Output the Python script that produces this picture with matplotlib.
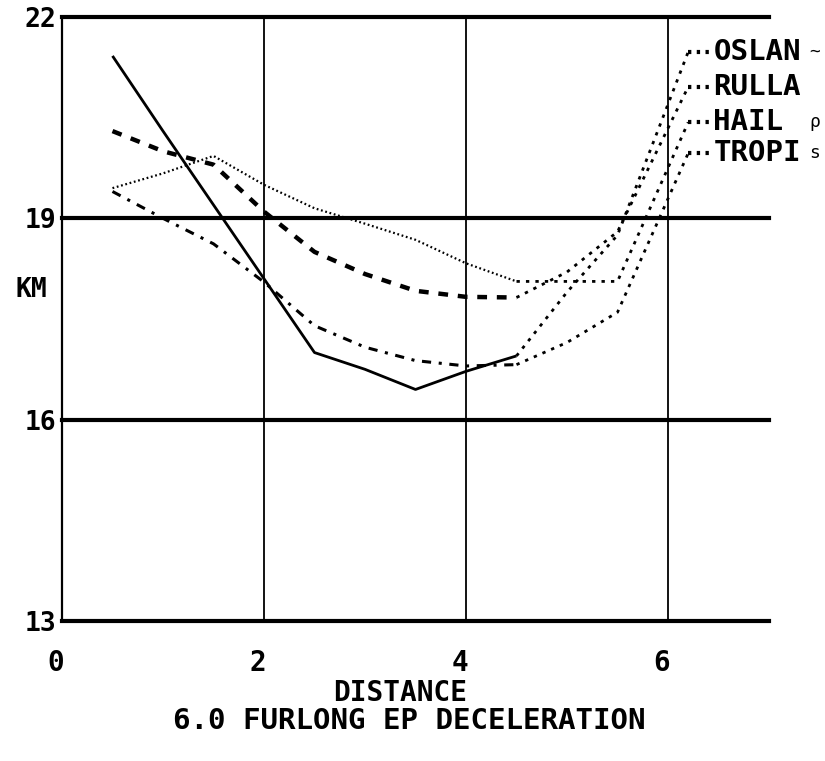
import matplotlib
matplotlib.use('Agg')
import matplotlib.pyplot as plt
from matplotlib.transforms import ScaledTranslation

# furlong split points and speeds (km)
distance = [0.5, 1.0, 1.5, 2.0, 2.5, 3.0, 3.5, 4.0, 4.5, 5.0, 5.5]
oslan = [21.42, 20.3, 19.2, 18.1, 17.0, 16.75, 16.45, 16.72, 16.95, 17.9, 18.75]
rulla = [20.3, 20.0, 19.8, 19.1, 18.5, 18.17, 17.92, 17.83, 17.82, 18.2, 18.8]
hail = [19.45, 19.67, 19.93, 19.5, 19.15, 18.92, 18.68, 18.33, 18.06, 18.06, 18.06]
tropi = [19.4, 19.0, 18.62, 18.05, 17.4, 17.08, 16.88, 16.8, 16.82, 17.15, 17.6]
names = ['OSLAN', 'RULLA', 'HAIL', 'TROPI']
scribbles = ['~', '', '\u03c1', 's']
xticks = [0, 2, 4, 6]
yticks = [13, 16, 19, 22]

# layout
label_y = [21.48, 20.96, 20.43, 19.97]
styles = ['-', (0, (2.2, 2.2)), (0, (0.8, 1.2)), (0, (3, 2.5, 1, 2.5))]
widths = [2.0, 3.2, 1.6, 2.2]
cut = 9  # points drawn in own style, rest is dotted
font = 'DejaVu Sans Mono'

fig = plt.figure(figsize=(8.25, 7.61), dpi=100)
ax = fig.add_axes([62 / 825, 140 / 761, 707 / 825, 604 / 761])
ax.set_xlim(0, 7)
ax.set_ylim(13, 22)
for s in ax.spines.values():
    s.set_visible(False)
ax.axvline(0, color='black', lw=1.6, clip_on=False)
for x in xticks[1:]:
    ax.axvline(x, color='black', lw=1.3)
for y in yticks:
    ax.axhline(y, color='black', lw=3.0, clip_on=False)

series = [oslan, rulla, hail, tropi]
for vals, st, w, ly, nm, sc in zip(series, styles, widths, label_y, names, scribbles):
    ax.plot(distance[:cut], vals[:cut], color='black', lw=w, linestyle=st,
            solid_capstyle='butt', dash_capstyle='butt')
    tail_x = distance[cut - 1:] + [6.2]
    tail_y = vals[cut - 1:] + [ly]
    ax.plot(tail_x, tail_y, color='black', lw=2.0, linestyle=(0, (1.2, 2.2)),
            clip_on=False)
    ax.plot([6.2, 6.43], [ly, ly], color='black', lw=3.0,
            linestyle=(0, (0.8, 1.3)), clip_on=False)
    ax.text(6.45, ly, nm, fontsize=21, family=font, weight='bold',
            ha='left', va='center')
    if sc:
        ax.text(7.4, ly, sc, fontsize=13, family=font, ha='left', va='center')

ax.set_xticks(xticks)
ax.set_xticklabels([str(x) for x in xticks], family=font, weight='bold', fontsize=20)
ax.set_yticks(yticks)
ax.set_yticklabels([str(y) for y in yticks], family=font, weight='bold', fontsize=19)
ax.tick_params(axis='x', length=0, pad=20)
ax.tick_params(axis='y', length=0, pad=4)
shift = ScaledTranslation(-6 / 100, 0, fig.dpi_scale_trans)
for lab in ax.get_xticklabels():
    lab.set_transform(lab.get_transform() + shift)

fig.text(31 / 825, 1 - 290 / 761, 'KM', family=font, weight='bold', fontsize=19,
         ha='center', va='center')
fig.text(400 / 825, 1 - 693 / 761, 'DISTANCE', family=font, weight='bold',
         fontsize=20, ha='center', va='center')
fig.text(409 / 825, 1 - 721 / 761, '6.0 FURLONG EP DECELERATION', family=font,
         weight='bold', fontsize=21, ha='center', va='center')

fig.savefig('out.png', dpi=100)
